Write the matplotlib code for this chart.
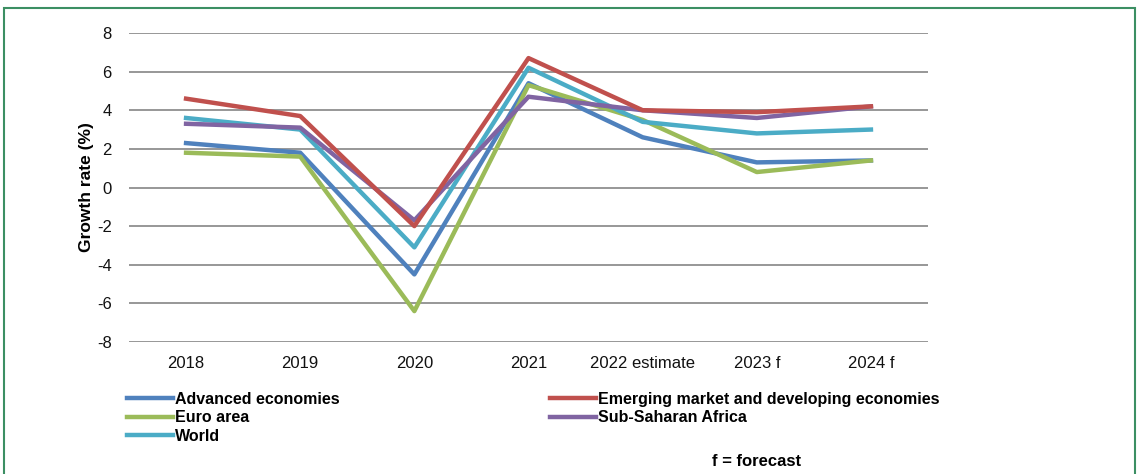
import numpy as np
import matplotlib.pyplot as plt
from matplotlib.patches import Rectangle

years = ["2018", "2019", "2020", "2021", "2022 estimate", "2023 f", "2024 f"]

advanced = [2.3, 1.8, -4.5, 5.4, 2.6, 1.3, 1.4]
emerging = [4.6, 3.7, -2.0, 6.7, 4.0, 3.9, 4.2]
euro = [1.8, 1.6, -6.4, 5.3, 3.5, 0.8, 1.4]
ssa = [3.3, 3.1, -1.7, 4.7, 4.0, 3.6, 4.2]
world = [3.6, 3.0, -3.1, 6.2, 3.4, 2.8, 3.0]

plt.rcParams['font.family'] = ['Liberation Sans', 'DejaVu Sans']
plt.rcParams['axes.unicode_minus'] = False

fig = plt.figure(figsize=(11.38, 4.74), dpi=100)
ax = fig.add_axes([129 / 1138, 1 - 342 / 474, (928 - 129) / 1138, (342 - 33) / 474])

x = np.arange(len(years))
lw = 3.2
l_adv, = ax.plot(x, advanced, color="#4F81BD", lw=lw, label="Advanced economies")
l_eu, = ax.plot(x, euro, color="#9BBB59", lw=lw, label="Euro area")
l_w, = ax.plot(x, world, color="#4BACC6", lw=lw, label="World")
l_ssa, = ax.plot(x, ssa, color="#8064A2", lw=lw, label="Sub-Saharan Africa")
l_em, = ax.plot(x, emerging, color="#C0504D", lw=lw, label="Emerging market and developing economies")

ax.set_xlim(-0.5, len(years) - 0.5)
ax.set_ylim(-8, 8)
ax.set_yticks(range(-8, 9, 2))
ax.set_xticks(x)
ax.set_xticklabels(years)
ax.yaxis.grid(True, color="#8f8f8f", lw=1.3)
ax.set_axisbelow(True)
for s in ax.spines.values():
    s.set_visible(False)
ax.tick_params(length=0, labelsize=12, colors="#111111")
ax.tick_params(axis="y", pad=12.5)
ax.tick_params(axis="x", pad=10)
ax.set_ylabel("Growth rate (%)", fontsize=12.5, fontweight="bold", labelpad=2)

# legend: left column advanced/euro/world, right column emerging/ssa
fig.legend(handles=[l_adv, l_eu, l_w, l_em, l_ssa], ncol=2, loc="upper left",
           bbox_to_anchor=(119 / 1138, 1 - 384 / 474), frameon=False,
           prop={"weight": "bold", "size": 11.5}, handlelength=2.85, handletextpad=0.15,
           columnspacing=13.2, labelspacing=0.22, borderpad=0)

fig.text(757 / 1138, 1 - 461 / 474, "f = forecast", ha="center", va="center",
         fontsize=12, fontweight="bold")

# green frame around the whole panel
fig.patches.append(Rectangle((4 / 1138, -0.05), (1135 - 4) / 1138, 1.05 - 8 / 474,
                             transform=fig.transFigure, fill=False,
                             edgecolor="#3c8f63", lw=1.5))

fig.savefig("out.png", dpi=100)
